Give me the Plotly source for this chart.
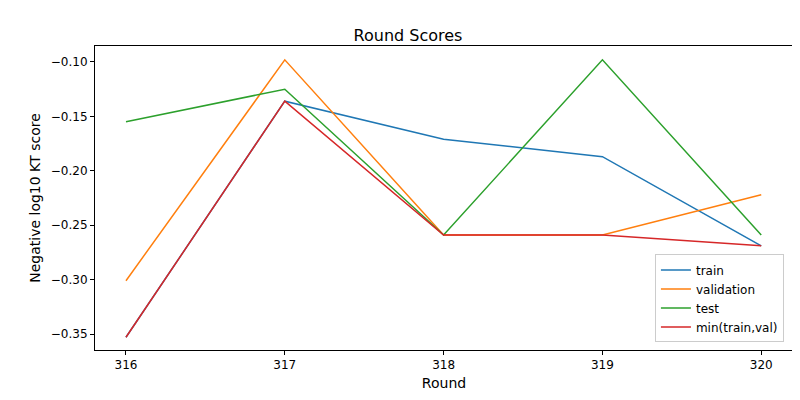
import plotly.graph_objects as go

rounds = [316, 317, 318, 319, 320]
train = [-0.353, -0.136, -0.171, -0.187, -0.269]
validation = [-0.301, -0.098, -0.259, -0.259, -0.222]
test = [-0.155, -0.125, -0.259, -0.098, -0.259]
min_train_val = [-0.353, -0.136, -0.259, -0.259, -0.269]

series = [("train", train, "#1f77b4"), ("validation", validation, "#ff7f0e"),
          ("test", test, "#2ca02c"), ("min(train,val)", min_train_val, "#d62728")]

fig = go.Figure()
for name, vals, col in series:
    fig.add_trace(go.Scatter(x=rounds, y=vals, name=name, mode="lines",
                             line=dict(color=col, width=1.5)))

axis = dict(showgrid=False, zeroline=False, showline=True, mirror=True, linecolor="black",
            ticks="outside", ticklen=4, tickcolor="black", automargin=False)
fig.update_layout(
    width=800, height=400, plot_bgcolor="white", paper_bgcolor="white",
    margin=dict(l=87, r=15, t=38, b=58),
    font=dict(family="DejaVu Sans", size=12, color="black"),
    title=dict(text="Round Scores", x=0.5, xanchor="center", y=0.945, font=dict(size=16),
               automargin=False),
    xaxis=dict(axis, title=dict(text="Round", standoff=6), range=[315.805, 320.2],
               tickvals=rounds, ticktext=[str(r) for r in rounds]),
    yaxis=dict(axis, title=dict(text="Negative log10 KT score", standoff=6),
               range=[-0.3647, -0.0853], tickvals=[-0.35, -0.30, -0.25, -0.20, -0.15, -0.10],
               ticktext=["−0.35", "−0.30", "−0.25", "−0.20", "−0.15", "−0.10"]),
    legend=dict(x=0.987, y=0.025, xanchor="right", yanchor="bottom", bordercolor="#cccccc",
                borderwidth=1, bgcolor="rgba(255,255,255,0.8)", font=dict(size=12)),
)
fig.write_html("out.html")
